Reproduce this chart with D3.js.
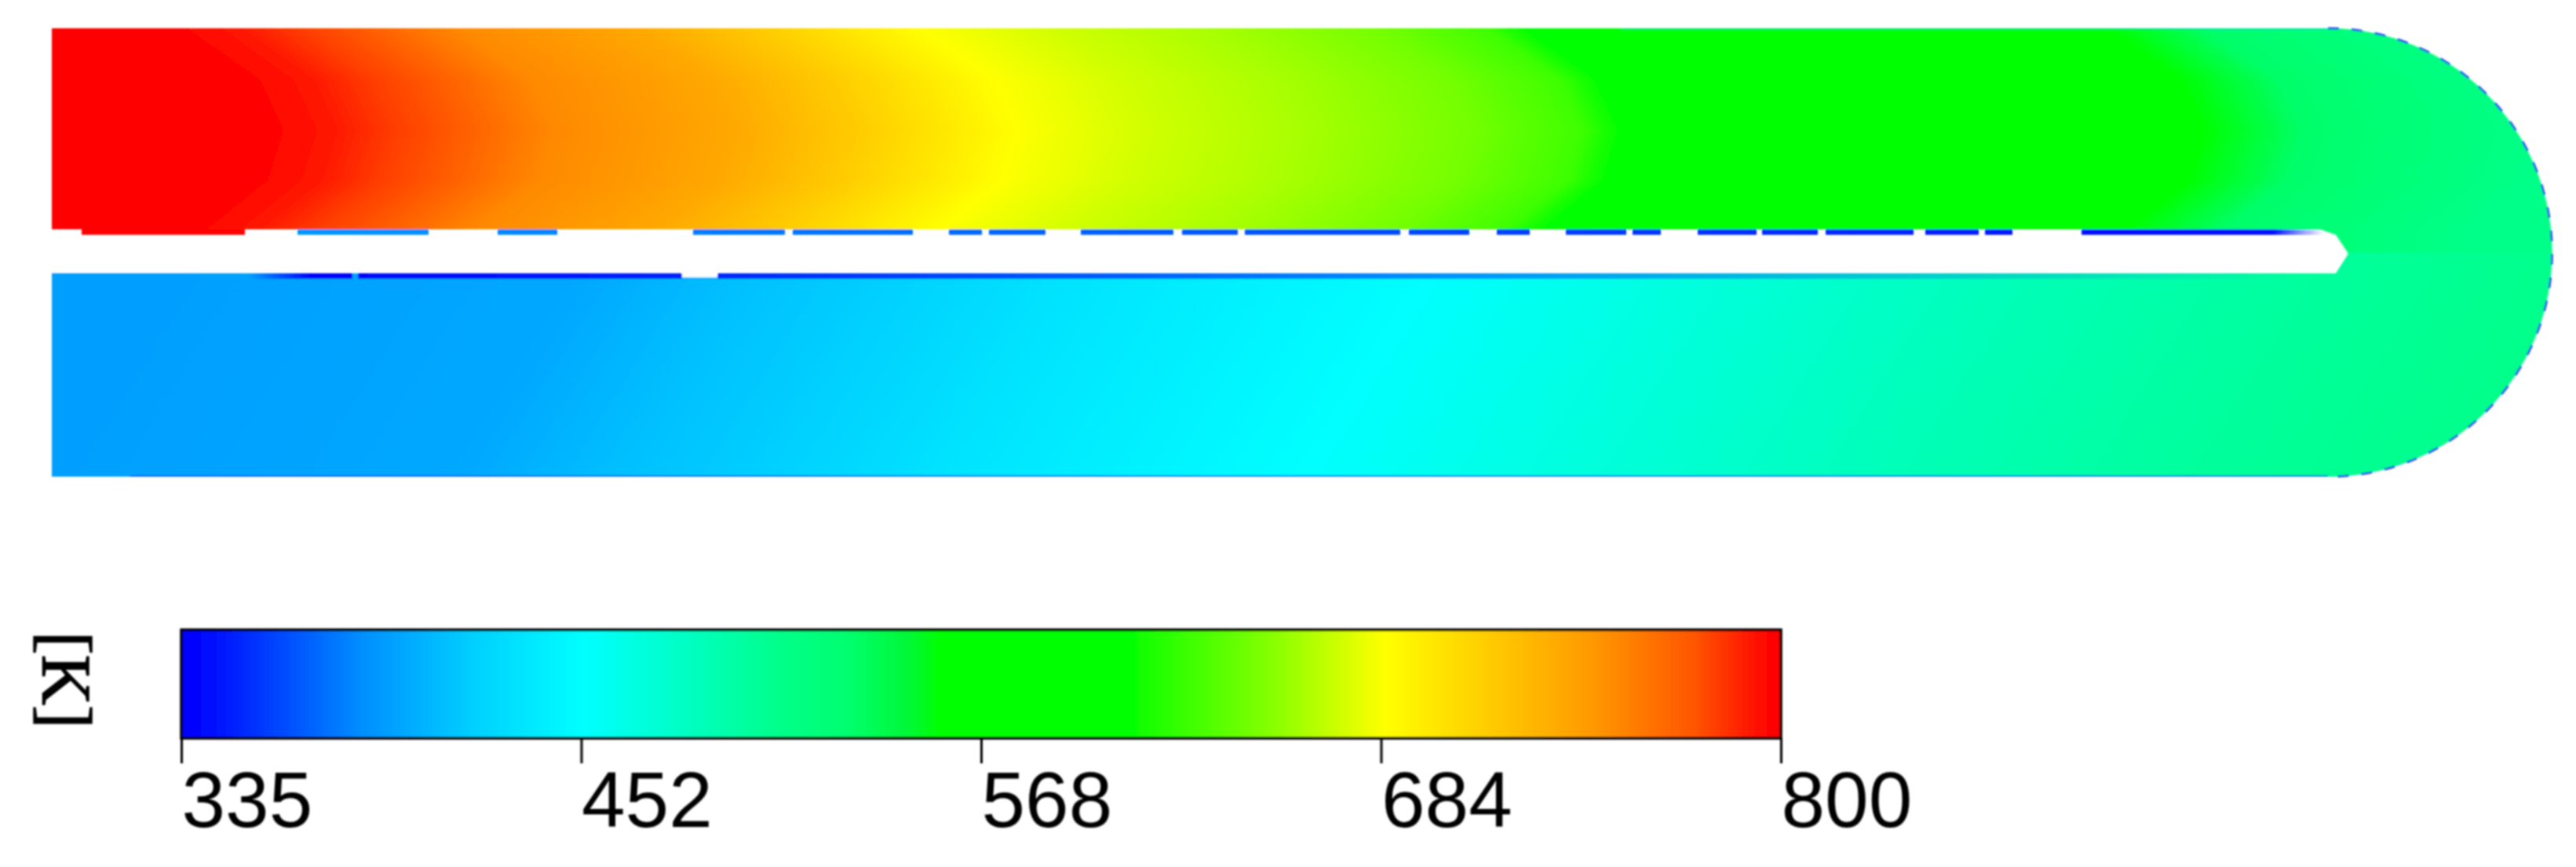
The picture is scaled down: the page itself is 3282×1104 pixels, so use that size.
<!DOCTYPE html>
<html>
<head>
<meta charset="utf-8">
<script src="https://cdn.jsdelivr.net/npm/d3@7"></script>
<style>
    html, body { margin: 0; padding: 0; background: #fff; }
    svg { display: block; }
</style>
</head>
<body>
<svg id="chart"></svg>
<script>
// colour bar
const scaleTemps = [335, 342, 388, 420, 452, 510, 528, 546, 556, 612, 613, 650, 685, 715, 745, 775, 795, 800];
const scaleColors = ["#0000ff", "#0008ff", "#0090ff", "#00d0ff", "#00ffff", "#00ff88", "#00ff70", "#00f838", "#00ff00", "#00ff00", "#10ff00", "#80ff00", "#ffff00", "#ffcc00", "#ff9900", "#ff5500", "#ff0800", "#ff0000"];
// the bar is ticked evenly, the labels are the rounded values
const tickValues = [335, 451.25, 567.5, 683.75, 800];
const tickLabels = [335, 452, 568, 684, 800];
const unitLabel = "[K]";

// temperature along the upper channel (position in mm, value in K)
const upperPos = [0, 27, 36, 44, 53, 64, 88, 105, 123, 140, 161, 182, 195, 200, 268, 274, 287, 318];
const upperTemp = [800, 800, 791, 781, 770, 752, 735, 712, 685, 672, 660, 645, 628, 612, 606, 558, 530, 510];
// temperature along the lower channel
const lowerPos = [0, 60, 80, 120, 167, 200, 245, 290, 318];
const lowerTemp = [395, 400, 412, 432, 452, 468, 488, 503, 510];
// how far the isotherms lean across each channel (mm)
const acrossFrac = [0, 0.25, 0.5, 0.75, 1];
const upperLean = [-12, -3, 0, -2, -10];
const lowerLean = [8, 4, 0, -4, -8];

// wall pieces along the slot (start, end in mm)
const upperWall = [[31.3, 48], [56.8, 64.4], [81.7, 93.4], [94.4, 109.7], [114.3, 118.5], [119.4, 126.6], [131.1, 142.9], [144, 151.1], [152, 171.8], [172.9, 180.6], [184.1, 188.3], [192.9, 200.6], [201.4, 205], [209.7, 217.2], [217.9, 225], [226, 237.2], [238.7, 245.5], [246.3, 249.8], [258.6, 289.5]];
const lowerWall = [[25, 38.3], [39, 80.3], [84.8, 287]];
const hotPatch = [3.8, 24.6];
const upperWallPos = [31, 100, 200, 260, 283, 289.5];
const upperWallTemp = [392, 378, 358, 345, 345, 345];
const lowerWallPos = [25, 33, 287];
const lowerWallTemp = [340, 337, 340];

const W = 3282, H = 1104;
const svg = d3.select("#chart").attr("width", W).attr("height", H);
const defs = svg.append("defs");
defs.append("filter").attr("id", "soft")
    .attr("filterUnits", "userSpaceOnUse")
    .attr("x", 0).attr("y", 0).attr("width", W).attr("height", H)
    .append("feGaussianBlur").attr("stdDeviation", 1.1);

const root = svg.append("g").attr("filter", "url(#soft)");

const x = d3.scaleLinear().domain([0, 290]).range([66, 2966]);
const color = d3.scaleLinear().domain(scaleTemps).range(scaleColors);

// builds a horizontal gradient from position / temperature arrays
function fieldGradient(id, pos, temp) {
    const x0 = x(pos[0]), x1 = x(pos[pos.length - 1]);
    const g = defs.append("linearGradient").attr("id", id)
        .attr("gradientUnits", "userSpaceOnUse")
        .attr("x1", x0).attr("x2", x1).attr("y1", 0).attr("y2", 0);
    g.selectAll("stop").data(pos).join("stop")
        .attr("offset", (d) => (x(d) - x0) / (x1 - x0))
        .attr("stop-color", (d, i) => color(temp[i]));
}
fieldGradient("upperField", upperPos, upperTemp);
fieldGradient("lowerField", lowerPos, lowerTemp);

// outline of the U shaped duct
const ductTop = 36, ductBot = 607, slotTop = 292, slotBot = 348;
const cx = x(290), cy = (ductTop + ductBot) / 2, r = (ductBot - ductTop) / 2;
const p = d3.path();
p.moveTo(x(0), ductTop);
p.lineTo(cx, ductTop);
p.arc(cx, cy, r, -Math.PI / 2, Math.PI / 2);
p.lineTo(x(0), ductBot);
p.lineTo(x(0), slotBot);
p.lineTo(x(291), slotBot);
p.lineTo(x(292.6), 323);
p.lineTo(x(291), 299);
p.lineTo(x(289), slotTop);
p.lineTo(x(0), slotTop);
p.closePath();
defs.append("clipPath").attr("id", "duct").append("path").attr("d", p.toString());

const field = root.append("g").attr("clip-path", "url(#duct)");

function drawBand(name, y0, y1, chan0, chan1, lean) {
    const leanAt = d3.scaleLinear().domain(acrossFrac).range(lean).clamp(true);
    const across = d3.scaleLinear().domain([chan0, chan1]).range([0, 1]);
    const rows = d3.range(y0, y1, 3);
    rows.forEach((y, i) => {
        const shift = x(leanAt(across(y))) - x(0);
        defs.append("linearGradient").attr("id", name + i)
            .attr("href", "#" + name)
            .attr("gradientTransform", `translate(${shift},0)`);
    });
    field.selectAll("rect." + name).data(rows).join("rect")
        .attr("class", name)
        .attr("x", x(0) - 20).attr("width", W)
        .attr("y", (d) => d).attr("height", 4)
        .attr("fill", (d, i) => `url(#${name}${i})`);
}
drawBand("upperField", ductTop, cy, ductTop, slotTop, upperLean);
drawBand("lowerField", cy, ductBot + 1, slotBot, ductBot, lowerLean);

// wall colours, fading out where the wall gets hot
function wallGradient(id, pos, temp) {
    const x0 = x(pos[0]), x1 = x(pos[pos.length - 1]);
    const g = defs.append("linearGradient").attr("id", id)
        .attr("gradientUnits", "userSpaceOnUse")
        .attr("x1", x0).attr("x2", x1).attr("y1", 0).attr("y2", 0);
    g.selectAll("stop").data(pos).join("stop")
        .attr("offset", (d) => (x(d) - x0) / (x1 - x0))
        .attr("stop-color", (d, i) => color(temp[i]))
        .attr("stop-opacity", (d, i) => (i == 0 && id == "lowerWallFill") || i == pos.length - 1 ? 0 : 1);
}
wallGradient("upperWallFill", upperWallPos, upperWallTemp);
wallGradient("lowerWallFill", lowerWallPos, lowerWallTemp);

root.append("rect")
    .attr("x", x(hotPatch[0])).attr("width", x(hotPatch[1]) - x(hotPatch[0]))
    .attr("y", slotTop).attr("height", 7)
    .attr("fill", color(800));

root.selectAll("rect.upperWall").data(upperWall).join("rect")
    .attr("class", "upperWall")
    .attr("x", (d) => x(d[0])).attr("width", (d) => x(d[1]) - x(d[0]))
    .attr("y", slotTop).attr("height", 7)
    .attr("fill", "url(#upperWallFill)");

root.selectAll("rect.lowerWall").data(lowerWall).join("rect")
    .attr("class", "lowerWall")
    .attr("x", (d) => x(d[0])).attr("width", (d) => x(d[1]) - x(d[0]))
    .attr("y", slotBot).attr("height", 7)
    .attr("fill", "url(#lowerWallFill)");

// notch in the lower wall
root.append("rect")
    .attr("x", x(80.3)).attr("width", x(84.8) - x(80.3))
    .attr("y", slotBot - 1).attr("height", 6)
    .attr("fill", "#fff");

// thin edges of the duct
root.append("line").attr("x1", x(200)).attr("x2", cx).attr("y1", ductTop + 1).attr("y2", ductTop + 1)
    .attr("stroke", "#00d0ff").attr("stroke-width", 1.5).attr("stroke-opacity", 0.5);
root.append("line").attr("x1", x(10)).attr("x2", cx).attr("y1", ductBot - 1).attr("y2", ductBot - 1)
    .attr("stroke", "#0050ff").attr("stroke-width", 2).attr("stroke-opacity", 0.7);
const bend = d3.path();
bend.arc(cx, cy, r, -Math.PI / 2, Math.PI / 2);
root.append("path").attr("d", bend.toString())
    .attr("fill", "none")
    .attr("stroke", "#1a3cf0").attr("stroke-width", 2.5)
    .attr("stroke-dasharray", "14 16");

// colour bar
const legX = d3.scaleLinear().domain([335, 800]).range([231, 2269]);
const legTop = 802, legBot = 940;
const legGrad = defs.append("linearGradient").attr("id", "legendFill")
    .attr("x1", "0%").attr("x2", "100%").attr("y1", 0).attr("y2", 0);
legGrad.selectAll("stop").data(scaleTemps).join("stop")
    .attr("offset", (d) => (d - 335) / (800 - 335))
    .attr("stop-color", (d, i) => scaleColors[i]);

root.append("rect")
    .attr("x", legX(335)).attr("y", legTop)
    .attr("width", legX(800) - legX(335)).attr("height", legBot - legTop)
    .attr("fill", "url(#legendFill)")
    .attr("stroke", "#000").attr("stroke-width", 3.5);

const axis = root.append("g")
    .attr("transform", `translate(0,${legBot})`)
    .call(d3.axisBottom(legX).tickValues(tickValues).tickSize(32).tickFormat((d, i) => tickLabels[i]));
axis.select(".domain").remove();
axis.selectAll("line").attr("stroke", "#000").attr("stroke-width", 3);
axis.selectAll("text")
    .attr("y", 113).attr("dy", 0).attr("x", 0)
    .style("text-anchor", "start")
    .style("font-family", "'Liberation Sans', Arial, sans-serif")
    .style("font-size", "100px")
    .attr("fill", "#000");

root.append("text")
    .attr("transform", "translate(55,804) rotate(90)")
    .style("font-family", "'Liberation Serif', 'Times New Roman', serif")
    .style("font-size", "89px")
    .attr("fill", "#000")
    .attr("stroke", "#000")
    .attr("stroke-width", 1.5)
    .text(unitLabel);
</script>
</body>
</html>
